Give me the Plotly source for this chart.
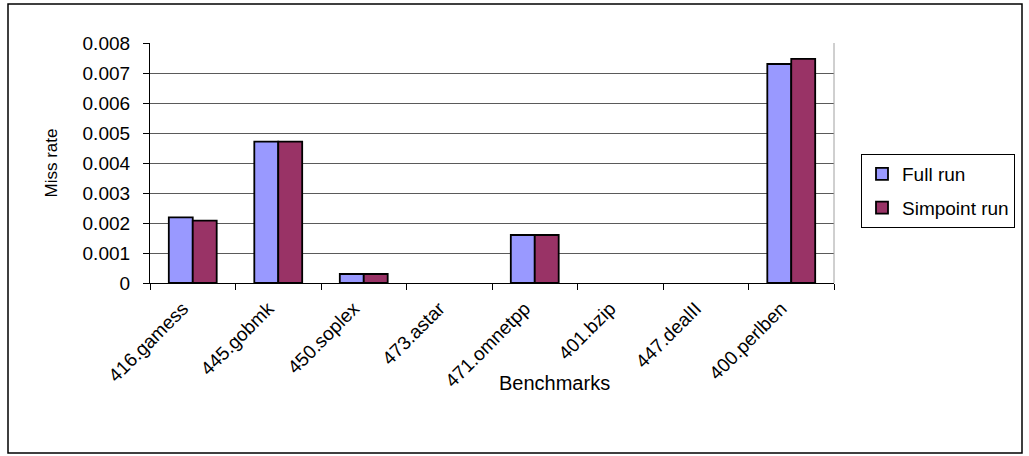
import plotly.graph_objects as go

categories = ["416.gamess", "445.gobmk", "450.soplex", "473.astar",
              "471.omnetpp", "401.bzip", "447.dealII", "400.perlben"]
# None = no bar drawn for that benchmark in the original
full_run = [0.00219, 0.00471, 0.0003, None, 0.0016, None, None, 0.0073]
simpoint_run = [0.00208, 0.00471, 0.0003, None, 0.0016, None, None, 0.00747]
y_ticks = [0, 0.001, 0.002, 0.003, 0.004, 0.005, 0.006, 0.007, 0.008]
y_tick_labels = ["0", "0.001", "0.002", "0.003", "0.004", "0.005", "0.006", "0.007", "0.008"]

FONT = "Liberation Sans, Arial, sans-serif"

fig = go.Figure()
fig.add_trace(go.Bar(name="Full run", x=categories, y=full_run,
                     marker=dict(color="#9999FF", line=dict(color="black", width=1.8)),
                     legendgroup="a"))
fig.add_trace(go.Bar(name="Simpoint run", x=categories, y=simpoint_run,
                     marker=dict(color="#993366", line=dict(color="black", width=1.8)),
                     legendgroup="b"))

L, R, T, B = 150, 195, 43, 173
W, H = 1029, 456
pw, ph = W - L - R, H - T - B

def px_x(x):
    return (x - L) / pw

def px_y(y):
    return (H - B - y) / ph

fig.update_layout(
    width=W, height=H,
    margin=dict(l=L, r=R, t=T, b=B),
    paper_bgcolor="white", plot_bgcolor="white",
    barmode="group", bargap=0.44, bargroupgap=0,
    font=dict(family=FONT, color="black", size=18),
    showlegend=True,
    legend=dict(x=px_x(861), y=px_y(154), xanchor="left", yanchor="top",
                bordercolor="black", borderwidth=1, bgcolor="white",
                font=dict(size=19, family=FONT), tracegroupgap=6,
                traceorder="grouped"),
    xaxis=dict(showline=True, linecolor="black", linewidth=1.2,
               ticks="outside", ticklen=6, tickcolor="black", tickson="boundaries",
               tickangle=-45, tickfont=dict(size=19, family=FONT),
               ticklabelstandoff=6, ticklabelshift=-10,
               showgrid=False, mirror=False),
    yaxis=dict(range=[0, 0.008], tickvals=y_ticks, ticktext=y_tick_labels,
               showline=True, linecolor="black", linewidth=1.2,
               ticks="outside", ticklen=6, tickcolor="black",
               ticklabelstandoff=9,
               tickfont=dict(size=19, family=FONT),
               showgrid=True, gridcolor="#5a5a5a", gridwidth=1,
               zeroline=False,
               title=dict(text="Miss rate", font=dict(size=17, family=FONT), standoff=20)),
    shapes=[
        # plot-area right border (light gray)
        dict(type="line", xref="paper", yref="paper", x0=1, x1=1, y0=0, y1=1,
             line=dict(color="#a0a0a0", width=1)),
        # outer chart frame
        dict(type="rect", xref="paper", yref="paper",
             x0=px_x(8), x1=px_x(1022), y0=px_y(453), y1=px_y(4),
             line=dict(color="black", width=1.5), layer="below"),
    ],
    annotations=[
        dict(text="Benchmarks", xref="paper", yref="paper",
             x=px_x(554), y=px_y(383), xanchor="center", yanchor="middle",
             showarrow=False, font=dict(size=20, family=FONT)),
    ],
)

fig.write_html("out.html")
